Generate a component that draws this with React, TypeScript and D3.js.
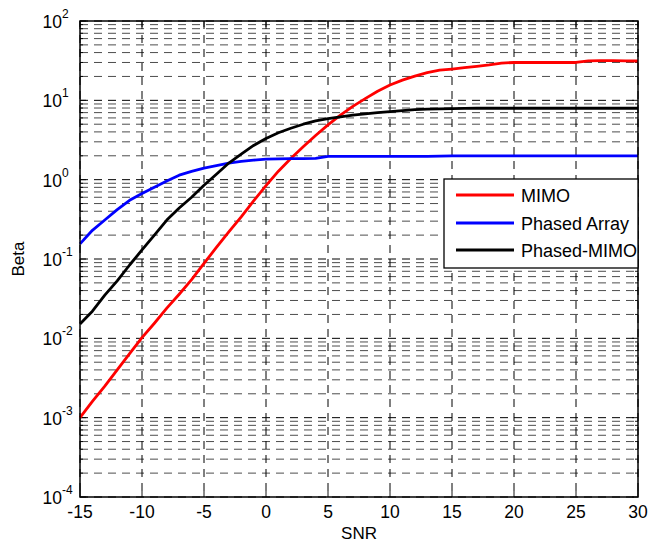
import React from "react";
import * as d3 from "d3";

const snr = [-15, -14, -13, -12, -11, -10, -9, -8, -7, -6, -5, -4, -3, -2, -1, 0, 1, 2, 3, 4, 5, 6, 7, 8, 9, 10, 11, 12, 13, 14, 15, 16, 17, 18, 19, 20, 21, 22, 23, 24, 25, 26, 27, 28, 29, 30];

const mimo = [0.001, 0.0016, 0.0025, 0.004, 0.0064, 0.0102, 0.0155, 0.024, 0.036, 0.055, 0.088, 0.14, 0.22, 0.34, 0.54, 0.84, 1.28, 1.85, 2.6, 3.6, 4.9, 6.5, 8.4, 10.5, 13.0, 15.6, 18.0, 20.2, 22.3, 24.0, 24.8, 25.8, 26.8, 28.0, 29.5, 30.0, 30.0, 30.0, 30.0, 30.0, 30.0, 31.5, 31.6, 31.6, 31.5, 31.3];

const phasedArray = [0.155, 0.23, 0.31, 0.42, 0.55, 0.67, 0.8, 0.96, 1.14, 1.27, 1.4, 1.5, 1.62, 1.7, 1.76, 1.81, 1.83, 1.84, 1.84, 1.85, 1.97, 1.97, 1.97, 1.97, 1.97, 1.97, 1.97, 1.97, 1.97, 1.98, 2.0, 2.0, 2.0, 2.0, 2.0, 2.0, 2.0, 2.0, 2.0, 2.0, 2.0, 2.0, 2.0, 2.0, 2.0, 2.0];

const phasedMimo = [0.0152, 0.022, 0.035, 0.053, 0.084, 0.13, 0.2, 0.31, 0.44, 0.6, 0.85, 1.17, 1.62, 2.1, 2.7, 3.3, 3.9, 4.45, 5.0, 5.5, 5.9, 6.2, 6.5, 6.75, 7.0, 7.2, 7.4, 7.65, 7.75, 7.8, 7.85, 7.9, 7.95, 7.95, 7.95, 7.95, 7.95, 7.95, 7.95, 7.95, 7.95, 7.95, 7.95, 7.95, 7.95, 7.95];

const xTicks = [-15, -10, -5, 0, 5, 10, 15, 20, 25, 30];
const yExponents = [-4, -3, -2, -1, 0, 1, 2];
const minorMultipliers = [2, 3, 4, 5, 6, 7, 8, 9];
const seriesNames = ["MIMO", "Phased Array", "Phased-MIMO"];
const seriesColors = ["#ff0000", "#0000ff", "#000000"];
const seriesData = [mimo, phasedArray, phasedMimo];

const FONT = "'Liberation Sans', Arial, Helvetica, sans-serif";

export default function App() {
  const W = 650;
  const H = 550;
  const L = 80, R = 638, T = 21, B = 497;
  const x = d3.scaleLinear().domain([-15, 30]).range([L, R]);
  const y = d3.scaleLog().domain([1e-4, 1e2]).range([B, T]);
  const line = d3
    .line<number>()
    .x((_, i) => x(snr[i]))
    .y((d) => y(d));

  const minorVals: number[] = [];
  yExponents.slice(0, -1).forEach((e) => {
    minorMultipliers.forEach((k) => minorVals.push(k * Math.pow(10, e)));
  });

  const dash = "8 6";
  const legX = 444, legY = 179, legW = R - 444, legH = 89;
  const legRows = [195, 223, 250];

  return (
    <svg
      width={W}
      height={H}
      style={{ position: "absolute", left: 0, top: 0, background: "#fff" }}
      fontFamily={FONT}
    >
      <rect x={0} y={0} width={W} height={H} fill="#fff" />
      {/* minor horizontal grid */}
      {minorVals.map((v, i) => (
        <line key={"mn" + i} x1={L} x2={R} y1={y(v)} y2={y(v)} stroke="#000" strokeWidth={1} strokeDasharray={dash} strokeOpacity={0.7} />
      ))}
      {/* major horizontal grid */}
      {yExponents.map((e) => (
        <line key={"mj" + e} x1={L} x2={R} y1={y(Math.pow(10, e))} y2={y(Math.pow(10, e))} stroke="#000" strokeWidth={1} strokeDasharray={dash} />
      ))}
      {/* vertical grid */}
      {xTicks.map((t) => (
        <line key={"vx" + t} x1={x(t)} x2={x(t)} y1={T} y2={B} stroke="#000" strokeWidth={1} strokeDasharray={dash} />
      ))}
      {/* tick marks */}
      {xTicks.map((t) => (
        <g key={"tk" + t}>
          <line x1={x(t)} x2={x(t)} y1={B} y2={B - 6} stroke="#000" strokeWidth={0.9} />
          <line x1={x(t)} x2={x(t)} y1={T} y2={T + 6} stroke="#000" strokeWidth={0.9} />
        </g>
      ))}
      {yExponents.map((e) => (
        <g key={"ty" + e}>
          <line x1={L} x2={L + 6} y1={y(Math.pow(10, e))} y2={y(Math.pow(10, e))} stroke="#000" strokeWidth={0.9} />
          <line x1={R} x2={R - 6} y1={y(Math.pow(10, e))} y2={y(Math.pow(10, e))} stroke="#000" strokeWidth={0.9} />
        </g>
      ))}
      {minorVals.map((v, i) => (
        <g key={"tm" + i}>
          <line x1={L} x2={L + 3} y1={y(v)} y2={y(v)} stroke="#000" strokeWidth={0.9} />
          <line x1={R} x2={R - 3} y1={y(v)} y2={y(v)} stroke="#000" strokeWidth={0.9} />
        </g>
      ))}
      {/* series */}
      {seriesData.map((d, i) => (
        <path key={"s" + i} d={line(d) || ""} fill="none" stroke={seriesColors[i]} strokeWidth={2.8} strokeLinejoin="round" />
      ))}
      {/* axes box */}
      <rect x={L} y={T} width={R - L} height={B - T} fill="none" stroke="#000" strokeWidth={1.5} />
      {/* x tick labels */}
      {xTicks.map((t) => (
        <text key={"xl" + t} x={x(t)} y={518} textAnchor="middle" fontSize={17.5} fill="#000">
          {t}
        </text>
      ))}
      {/* y tick labels */}
      {yExponents.map((e) => (
        <text key={"yl" + e} x={62} y={y(Math.pow(10, e)) + 7} textAnchor="end" fontSize={17.5} fill="#000">
          10
        </text>
      ))}
      {yExponents.map((e) => (
        <text key={"ye" + e} x={62} y={y(Math.pow(10, e)) - 3} textAnchor="start" fontSize={12} fill="#000">
          {e}
        </text>
      ))}
      {/* axis labels */}
      <text x={(L + R) / 2} y={539} textAnchor="middle" fontSize={17} fill="#000">
        SNR
      </text>
      <text transform={`translate(24, ${(T + B) / 2}) rotate(-90)`} textAnchor="middle" fontSize={17} fill="#000">
        Beta
      </text>
      {/* legend */}
      <rect x={legX} y={legY} width={legW} height={legH} fill="#fff" stroke="#000" strokeWidth={1.3} />
      {seriesNames.map((n, i) => (
        <g key={"lg" + i}>
          <line x1={456} x2={514} y1={legRows[i]} y2={legRows[i]} stroke={seriesColors[i]} strokeWidth={2.8} />
          <text x={521} y={legRows[i] + 7} fontSize={18} fill="#000">
            {n}
          </text>
        </g>
      ))}
    </svg>
  );
}
